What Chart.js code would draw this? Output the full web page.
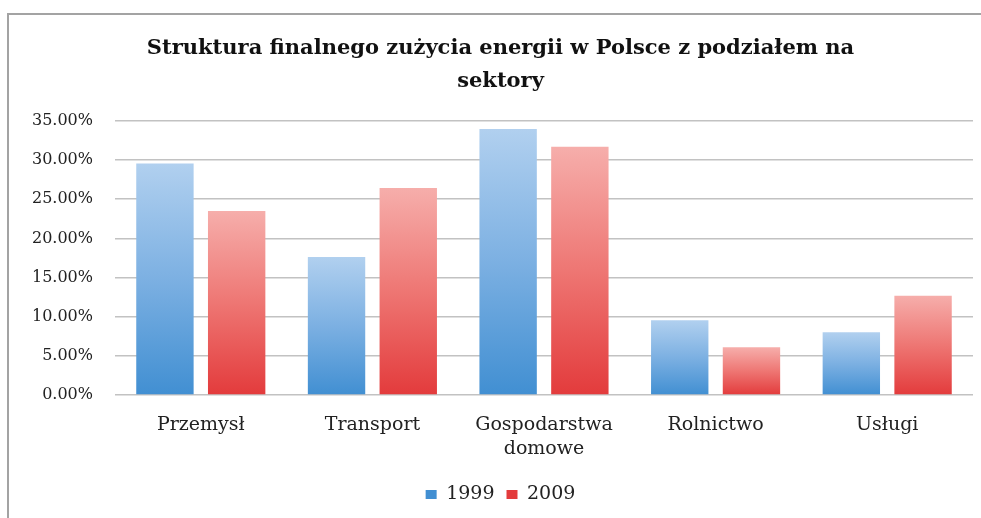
<!DOCTYPE html>
<html>
<head>
<meta charset="utf-8">
<script src="https://cdn.jsdelivr.net/npm/chart.js@4.4.1/dist/chart.umd.min.js"></script>
<style>
  html, body { margin: 0; padding: 0; background: #fff; overflow: hidden; }
  #wrap { position: relative; width: 981px; height: 518px; }
  #frame { position: absolute; left: 7px; top: 13px; width: 1000px; height: 600px;
           border-top: 2px solid #a3a3a3; border-left: 2px solid #a3a3a3; }
  canvas { position: absolute; left: 0; top: 0; }
</style>
</head>
<body>
<div id="wrap">
  <div id="frame"></div>
  <canvas id="c" width="981" height="518"></canvas>
</div>
<script>
const titleLines = ['Struktura finalnego zużycia energii w Polsce z podziałem na', 'sektory'];
const categories = ['Przemysł', 'Transport', ['Gospodarstwa', 'domowe'], 'Rolnictwo', 'Usługi'];
const seriesNames = ['1999', '2009'];
const values1999 = [29.55, 17.63, 33.98, 9.54, 8.00];
const values2009 = [23.50, 26.44, 31.70, 6.09, 12.69];
const yTicksMin = 0, yTicksMax = 35, yTicksStep = 5;

const SERIF = '"DejaVu Serif", "Liberation Serif", serif';

function gradFill(stops, solid) {
  return function (ctx) {
    const chart = ctx.chart;
    if (!chart.chartArea || ctx.raw === undefined) return solid;
    const y = chart.scales.y;
    const top = y.getPixelForValue(ctx.raw);
    const bot = y.getPixelForValue(0);
    if (!isFinite(top) || !isFinite(bot) || top === bot) return solid;
    const g = chart.ctx.createLinearGradient(0, top, 0, bot);
    g.addColorStop(0, stops[0]);
    g.addColorStop(0.5, stops[1]);
    g.addColorStop(1, stops[2]);
    return g;
  };
}

new Chart(document.getElementById('c'), {
  type: 'bar',
  data: {
    labels: categories,
    datasets: [
      { label: seriesNames[0], data: values1999,
        backgroundColor: gradFill(['#b1d0ef', '#7cb0e2', '#418fd2'], '#6fa8e0'),
        categoryPercentage: 0.836, barPercentage: 0.8 },
      { label: seriesNames[1], data: values2009,
        backgroundColor: gradFill(['#f6aeab', '#ee7673', '#e33b3c'], '#ec5d5c'),
        categoryPercentage: 0.836, barPercentage: 0.8 }
    ]
  },
  options: {
    responsive: false,
    animation: false,
    layout: { padding: { left: 28, right: 8, top: 0, bottom: 4 } },
    plugins: {
      title: {
        display: true,
        text: titleLines,
        color: '#111',
        font: { family: SERIF, size: 21, weight: 'bold', lineHeight: 1.57 },
        padding: { top: 32, bottom: 23 }
      },
      legend: {
        position: 'bottom',
        labels: {
          color: '#222',
          font: { family: SERIF, size: 19 },
          boxWidth: 11, boxHeight: 9, padding: 12
        }
      },
      tooltip: { enabled: false }
    },
    scales: {
      x: {
        grid: { display: false },
        border: { display: false },
        ticks: { color: '#222', font: { family: SERIF, size: 19, lineHeight: 1.26 }, padding: 10, maxRotation: 0, autoSkip: false },
        afterFit: (s) => { s.height = 78; }
      },
      y: {
        min: yTicksMin, max: yTicksMax,
        border: { display: false },
        grid: { color: '#c2c2c2', lineWidth: 1.5, drawTicks: false },
        ticks: { stepSize: yTicksStep, color: '#222', font: { family: SERIF, size: 16 }, padding: 22,
                 callback: (v) => Number(v).toFixed(2) + '%' },
        afterFit: (s) => { s.width = 87; }
      }
    }
  }
});
</script>
</body>
</html>
